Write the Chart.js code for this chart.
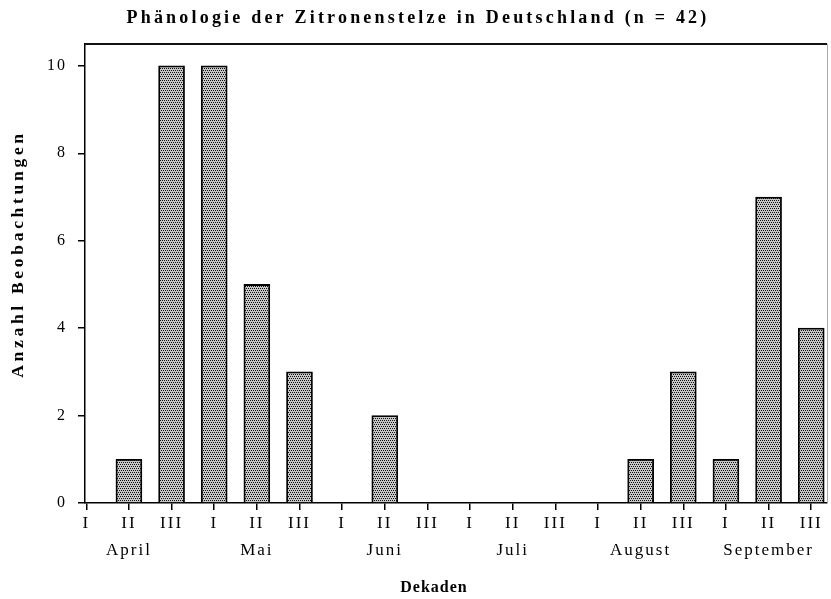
<!DOCTYPE html>
<html>
<head>
<meta charset="utf-8">
<script src="https://cdn.jsdelivr.net/npm/chart.js@4"></script>
<style>
  html, body { margin: 0; background: #fff; }
</style>
</head>
<body>
<canvas id="chart" width="831" height="599"></canvas>
<script>
const titleText = "Phänologie der Zitronenstelze in Deutschland (n = 42)";
const yTitle = "Anzahl Beobachtungen";
const xTitle = "Dekaden";

const months = ["April", "Mai", "Juni", "Juli", "August", "September"];
const decades = ["I", "II", "III", "I", "II", "III", "I", "II", "III",
                 "I", "II", "III", "I", "II", "III", "I", "II", "III"];
const counts = [0, 1, 10, 10, 5, 3, 0, 2, 0, 0, 0, 0, 0, 1, 3, 1, 7, 4];
const yTicks = [0, 2, 4, 6, 8, 10];

const serif = "'Liberation Serif', 'DejaVu Serif', serif";

// stipple fill like the scanned bars
const makeStipple = () => {
  const tile = document.createElement("canvas");
  tile.width = 4;
  tile.height = 4;
  const t = tile.getContext("2d");
  t.fillStyle = "#c6c6c6";
  t.fillRect(0, 0, 4, 4);
  t.fillStyle = "#111";
  [[0, 0], [2, 0], [1, 2], [3, 2]].forEach(([x, y]) => t.fillRect(x, y, 1, 1));
  return t.createPattern(tile, "repeat");
};

const canvas = document.getElementById("chart");

const frameAndTitles = {
  id: "frameAndTitles",
  beforeDraw(chart) {
    // spaced-out lettering of the original
    chart.ctx.letterSpacing = "2px";
  },
  afterDraw(chart) {
    const { ctx, chartArea: a } = chart;
    ctx.save();
    // top and right edge of the frame
    ctx.strokeStyle = "#111";
    ctx.lineWidth = 2;
    ctx.beginPath();
    ctx.moveTo(a.left, a.top);
    ctx.lineTo(a.right, a.top);
    ctx.stroke();
    ctx.strokeStyle = "#aaa";
    ctx.lineWidth = 1;
    ctx.beginPath();
    ctx.moveTo(a.right + 0.5, a.top);
    ctx.lineTo(a.right + 0.5, a.bottom);
    ctx.stroke();

    ctx.fillStyle = "#000";
    ctx.textAlign = "center";
    ctx.textBaseline = "middle";
    ctx.font = "bold 18px " + serif;
    ctx.letterSpacing = "3.2px";
    ctx.fillText(titleText, 418, 18);

    ctx.font = "bold 16px " + serif;
    ctx.letterSpacing = "1px";
    ctx.fillText(xTitle, 434, 588);

    ctx.font = "bold 17.5px " + serif;
    ctx.letterSpacing = "3.7px";
    ctx.translate(18, 254);
    ctx.rotate(-Math.PI / 2);
    ctx.fillText(yTitle, 0, 0);
    ctx.restore();
  },
};

new Chart(canvas, {
  type: "bar",
  data: {
    datasets: [
      {
        data: counts.map((v, i) => ({ x: i, y: v })),
        backgroundColor: makeStipple(),
        borderColor: "#000",
        borderWidth: 1.8,
        barThickness: 26,
      },
    ],
  },
  options: {
    responsive: false,
    animation: false,
    devicePixelRatio: 1,
    layout: { padding: { left: 0, right: 4, top: 44, bottom: 0 } },
    plugins: {
      legend: { display: false },
      tooltip: { enabled: false },
      title: { display: false },
    },
    scales: {
      x: {
        type: "linear",
        min: -0.03,
        max: 17.37,
        offset: false,
        afterBuildTicks: (s) => {
          s.ticks = decades.map((_, i) => ({ value: i }));
        },
        afterFit: (s) => {
          s.height = 96;
        },
        grid: {
          offset: false,
          drawOnChartArea: false,
          tickLength: 7,
          color: "#000",
          lineWidth: 1.5,
        },
        border: { color: "#000", width: 1.5 },
        ticks: {
          autoSkip: false,
          maxRotation: 0,
          padding: 0,
          color: "#000",
          font: { family: serif, size: 17, lineHeight: 1.6 },
          callback: (val, index) =>
            index % 3 === 1 ? [decades[index], months[(index - 1) / 3]] : [decades[index], ""],
        },
      },
      y: {
        min: 0,
        max: 10.5,
        afterBuildTicks: (s) => {
          s.ticks = yTicks.map((v) => ({ value: v }));
        },
        afterFit: (s) => {
          s.width = 85;
        },
        grid: {
          drawOnChartArea: false,
          tickLength: 7,
          color: "#000",
          lineWidth: 1.5,
        },
        border: { color: "#000", width: 1.5 },
        ticks: {
          padding: 11,
          color: "#000",
          font: { family: serif, size: 16 },
        },
      },
    },
  },
  plugins: [frameAndTitles],
});
</script>
</body>
</html>
